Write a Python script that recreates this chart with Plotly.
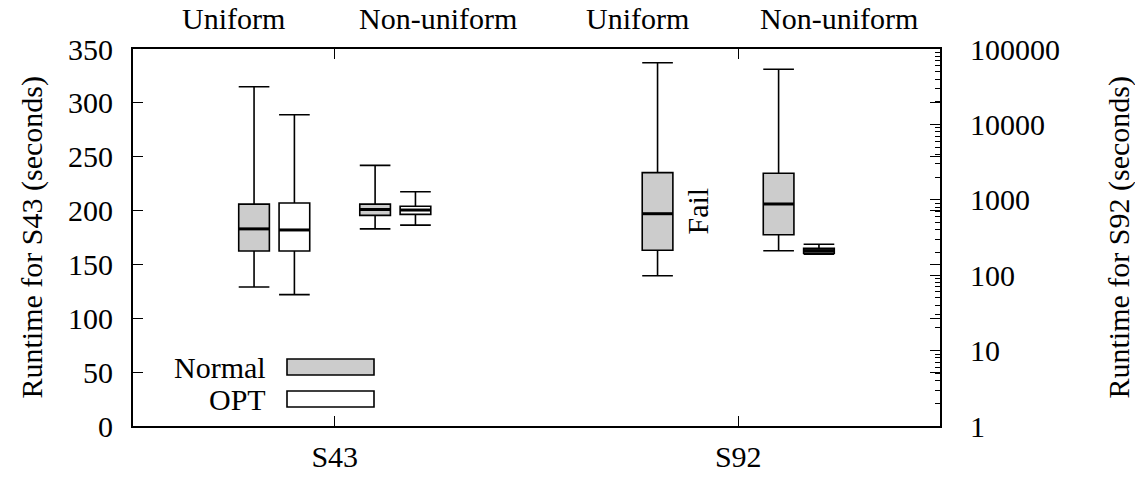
import plotly.graph_objects as go

# ---- data ----
categories = ["S43", "S92"]
cat_pos = [1, 2]
distributions = ["Uniform", "Non-uniform"]
methods = ["Normal", "OPT"]

# S43 (linear, left axis): [lowerfence, q1, median, q3, upperfence]
s43_normal_uniform = [129, 162.5, 183, 206, 315]
s43_opt_uniform = [122, 162.5, 182, 207, 289]
s43_normal_nonuniform = [183, 195.5, 201, 206, 242]
s43_opt_nonuniform = [186.5, 196.5, 200.5, 204, 217.5]

# S92 (log, right axis)
s92_normal_uniform = [98.5, 214, 654, 2290, 65800]
s92_opt_uniform = None  # Fail
s92_normal_nonuniform = [211, 344, 880, 2245, 53800]
s92_opt_nonuniform = [190, 196, 212, 228, 257]

y_ticks = [0, 50, 100, 150, 200, 250, 300, 350]
y2_ticks = [1, 10, 100, 1000, 10000, 100000]
y2_minor = [m * 10 ** k for k in range(5) for m in range(2, 10)]
top_labels = ["Uniform", "Non-uniform", "Uniform", "Non-uniform"]
top_label_pos = [0.75, 1.255, 1.75, 2.25]

offsets = {("Normal", "Uniform"): -0.2, ("OPT", "Uniform"): -0.1,
           ("Normal", "Non-uniform"): 0.1, ("OPT", "Non-uniform"): 0.2}
fills = {"Normal": "#cccccc", "OPT": "#ffffff"}
BW = 0.076
FONT = "Liberation Serif"
FS = 30

series = [
    ("S43", "Normal", "Uniform", s43_normal_uniform, "y"),
    ("S43", "OPT", "Uniform", s43_opt_uniform, "y"),
    ("S43", "Normal", "Non-uniform", s43_normal_nonuniform, "y"),
    ("S43", "OPT", "Non-uniform", s43_opt_nonuniform, "y"),
    ("S92", "Normal", "Uniform", s92_normal_uniform, "y2"),
    ("S92", "OPT", "Uniform", s92_opt_uniform, "y2"),
    ("S92", "Normal", "Non-uniform", s92_normal_nonuniform, "y2"),
    ("S92", "OPT", "Non-uniform", s92_opt_nonuniform, "y2"),
]

fig = go.Figure()
fail_pos = None
for cat, meth, dist, vals, yax in series:
    x = cat_pos[categories.index(cat)] + offsets[(meth, dist)]
    if vals is None:
        fail_pos = x
        continue
    lf, q1, med, q3, uf = vals
    fig.add_trace(go.Box(
        x=[x], lowerfence=[lf], q1=[q1], median=[med], q3=[q3], upperfence=[uf],
        width=BW, whiskerwidth=1, fillcolor=fills[meth],
        line=dict(color="black", width=1.6), boxpoints=False,
        yaxis=yax, showlegend=False, hoverinfo="skip"))
    fig.add_trace(go.Scatter(
        x=[x - BW / 2, x + BW / 2], y=[med, med], mode="lines",
        line=dict(color="black", width=3), yaxis=yax,
        showlegend=False, hoverinfo="skip"))

# minor-tick carrier for the log axis
fig.add_trace(go.Scatter(x=[None], y=[None], yaxis="y3", showlegend=False))

tickfont = dict(family=FONT, size=FS, color="black")
fig.update_layout(
    width=1135, height=477,
    margin=dict(l=133, r=195, t=49, b=51),
    plot_bgcolor="white", paper_bgcolor="white",
    font=dict(family=FONT, size=FS, color="black"),
    xaxis=dict(range=[0.5, 2.5], tickvals=cat_pos, ticktext=categories,
               ticks="inside", ticklen=10, tickwidth=1.2, tickcolor="black",
               showline=True, linewidth=2, linecolor="black", mirror="ticks",
               showgrid=False, zeroline=False, tickfont=tickfont,
               ticklabelstandoff=3, automargin=False),
    yaxis=dict(range=[0, 350], tickvals=y_ticks,
               ticks="inside", ticklen=10, tickwidth=1.2, tickcolor="black",
               showline=True, linewidth=2, linecolor="black", mirror="ticks",
               showgrid=False, zeroline=False, tickfont=tickfont,
               ticklabelstandoff=12, automargin=False),
    yaxis2=dict(type="log", range=[0, 5], tickvals=y2_ticks,
                ticktext=[str(v) for v in y2_ticks],
                overlaying="y", side="right", anchor="x",
                ticks="inside", ticklen=10, tickwidth=1.2, tickcolor="black",
                showline=True, linewidth=2, linecolor="black",
                showgrid=False, zeroline=False, tickfont=tickfont,
                ticklabelstandoff=22, automargin=False),
    yaxis3=dict(type="log", range=[0, 5], tickvals=y2_minor,
                overlaying="y", side="right", anchor="x",
                ticks="inside", ticklen=5, tickwidth=1.2, tickcolor="black",
                showticklabels=False, showgrid=False, zeroline=False,
                automargin=False),
)

afont = dict(family=FONT, size=FS, color="black")
# axis titles
fig.add_annotation(text="Runtime for S43 (seconds)", xref="paper", yref="paper",
                   x=0, y=0.5, xshift=-102, xanchor="center", yanchor="middle",
                   textangle=-90, showarrow=False, font=afont)
fig.add_annotation(text="Runtime for S92 (seconds)", xref="paper", yref="paper",
                   x=1, y=0.5, xshift=178, xanchor="center", yanchor="middle",
                   textangle=-90, showarrow=False, font=afont)

# top labels
for lab, xp in zip(top_labels, top_label_pos):
    fig.add_annotation(text=lab, xref="x", yref="paper", x=xp, y=1,
                       yanchor="middle", yshift=31, showarrow=False, font=afont)

# Fail label
fig.add_annotation(text="Fail", xref="x", yref="y", x=fail_pos, y=200,
                   textangle=-90, showarrow=False, font=afont)

# legend (gnuplot style: text then sample box)
leg_items = [("Normal", 367), ("OPT", 399)]
plot_h = 477 - 49 - 51
plot_w = 1135 - 133 - 195
for name, yc in leg_items:
    yp = (426 - yc) / plot_h
    fig.add_annotation(text=name, xref="paper", yref="paper",
                       x=(268 - 133) / plot_w, y=yp, xanchor="right",
                       yanchor="middle", showarrow=False, font=afont)
    fig.add_shape(type="rect", xref="paper", yref="paper",
                  x0=(287 - 133) / plot_w, x1=(374 - 133) / plot_w,
                  y0=yp - 8 / plot_h, y1=yp + 8 / plot_h,
                  fillcolor=fills[name], line=dict(color="black", width=1.6))

fig.write_html("out.html")
